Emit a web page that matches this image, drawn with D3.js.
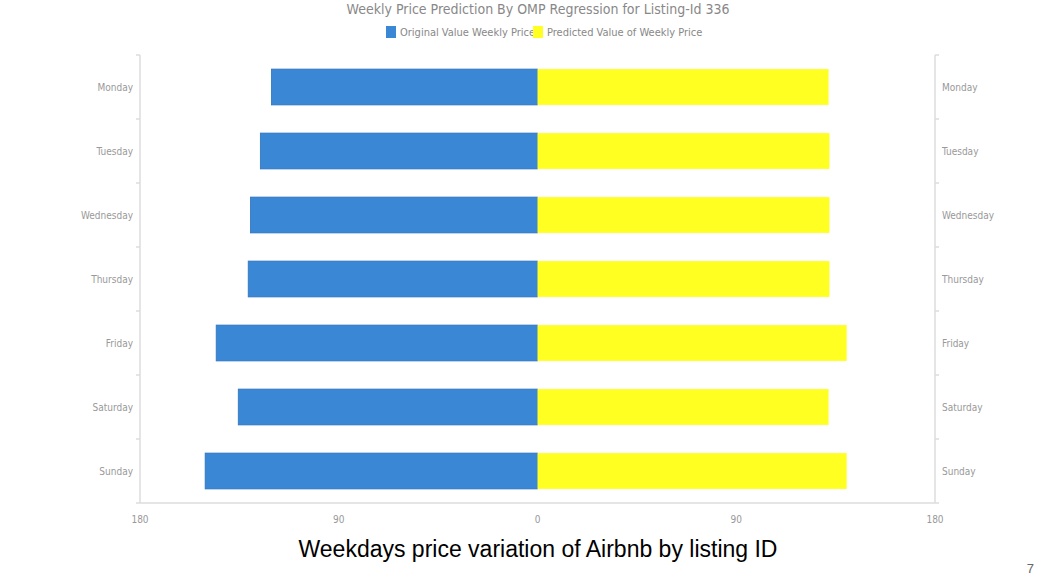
<!DOCTYPE html>
<html><head><meta charset="utf-8">
<script src="https://cdn.jsdelivr.net/npm/d3@7"></script>
<style>body{margin:0;background:#fff;font-family:"DejaVu Sans Condensed","Liberation Sans Narrow","Open Sans",sans-serif}</style>
</head><body><svg id="c" width="1038" height="578"></svg>
<script>
const days = ['Monday','Tuesday','Wednesday','Thursday','Friday','Saturday','Sunday'];
const original = [120.5, 125.5, 130, 131, 145.5, 135.5, 150.5];
const predicted = [131.8, 132.2, 132.2, 132.2, 140, 131.8, 140];
const ticks = [-180, -90, 0, 90, 180];

const svg = d3.select('#c');
const m = { left: 140, right: 935, top: 55, bottom: 503 };
const x = d3.scaleLinear().domain([-180, 180]).range([m.left, m.right]);
const y = d3.scaleBand().domain(days).range([m.top, m.bottom]).paddingInner(0.44).paddingOuter(0.22);
const grey = '#999', lineC = '#ddd';

svg.append('text').attr('x', 538).attr('y', 14).attr('text-anchor', 'middle')
  .attr('font-size', 14).attr('fill', '#888').text('Weekly Price Prediction By OMP Regression for Listing-Id 336');

const leg = [['Original Value Weekly Price', '#3a87d6', 386], ['Predicted Value of Weekly Price', '#ffff22', 533]];
leg.forEach(([t, c, lx]) => {
  svg.append('rect').attr('x', lx).attr('y', 26).attr('width', 10).attr('height', 12).attr('fill', c);
  svg.append('text').attr('x', lx + 14).attr('y', 36).attr('font-size', 11).attr('fill', '#888').text(t);
});

// axes
const ax = svg.append('g').attr('stroke', lineC).attr('stroke-width', 1.5);
ax.append('line').attr('x1', m.left).attr('x2', m.left).attr('y1', m.top).attr('y2', m.bottom);
ax.append('line').attr('x1', m.right).attr('x2', m.right).attr('y1', m.top).attr('y2', m.bottom);
ax.append('line').attr('x1', m.left - 4).attr('x2', m.right + 4).attr('y1', m.bottom).attr('y2', m.bottom);
const edges = days.map((d, i) => m.top + i * (m.bottom - m.top) / days.length);
edges.forEach(e => {
  ax.append('line').attr('x1', m.left - 4).attr('x2', m.left).attr('y1', e).attr('y2', e);
  ax.append('line').attr('x1', m.right).attr('x2', m.right + 4).attr('y1', e).attr('y2', e);
});

svg.selectAll('.tk').data(ticks).join('text')
  .attr('x', d => x(d)).attr('y', 523).attr('text-anchor', 'middle')
  .attr('font-size', 10).attr('fill', grey).text(d => Math.abs(d));

svg.selectAll('.yl').data(days).join('text')
  .attr('x', m.left - 7).attr('y', d => y(d) + y.bandwidth() / 2 + 4).attr('text-anchor', 'end')
  .attr('font-size', 10).attr('fill', grey).text(d => d);
svg.selectAll('.yr').data(days).join('text')
  .attr('x', m.right + 7).attr('y', d => y(d) + y.bandwidth() / 2 + 4)
  .attr('font-size', 10).attr('fill', grey).text(d => d);

svg.selectAll('.ob').data(days).join('rect')
  .attr('x', (d, i) => x(-original[i])).attr('width', (d, i) => x(0) - x(-original[i]))
  .attr('y', d => y(d)).attr('height', y.bandwidth())
  .attr('fill', '#3a87d6').attr('stroke', '#2e74bd').attr('stroke-width', 0.8);
svg.selectAll('.pb').data(days).join('rect')
  .attr('x', x(0)).attr('width', (d, i) => x(predicted[i]) - x(0))
  .attr('y', d => y(d)).attr('height', y.bandwidth())
  .attr('fill', '#ffff22');

svg.append('text').attr('x', 538).attr('y', 557).attr('text-anchor', 'middle')
  .attr('font-family', 'Liberation Sans, Arial, sans-serif').attr('font-size', 23).attr('fill', '#000')
  .text('Weekdays price variation of Airbnb by listing ID');
svg.append('text').attr('x', 1034).attr('y', 573).attr('text-anchor', 'end')
  .attr('font-family', 'Liberation Sans, Arial, sans-serif').attr('font-size', 13).attr('fill', '#666').text('7');
</script></body></html>
